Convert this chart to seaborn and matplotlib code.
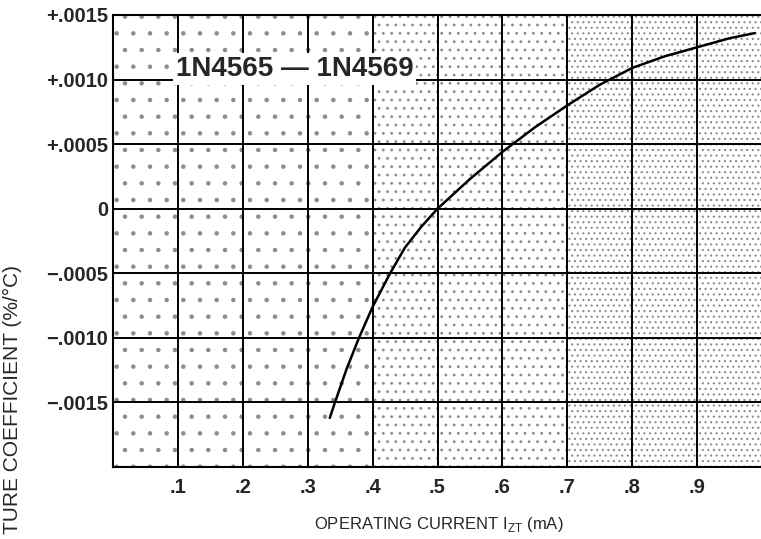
import matplotlib
matplotlib.use("Agg")
import matplotlib.pyplot as plt
import seaborn as sns
import pandas as pd
from matplotlib.patches import Rectangle

# ---- data ----
current_ma = [0.334, 0.342, 0.360, 0.379, 0.400, 0.427, 0.450, 0.475, 0.500,
              0.550, 0.600, 0.650, 0.700, 0.750, 0.800, 0.850, 0.900, 0.950,
              0.989]
temp_coeff = [-0.00162, -0.00150, -0.00124, -0.00100, -0.00076, -0.00050,
              -0.00030, -0.00014, 0.0, 0.00023, 0.00044, 0.00063, 0.00080,
              0.00096, 0.00109, 0.00118, 0.00125, 0.00132, 0.00136]
x_ticks = [0.1, 0.2, 0.3, 0.4, 0.5, 0.6, 0.7, 0.8, 0.9]
x_tick_labels = [".1", ".2", ".3", ".4", ".5", ".6", ".7", ".8", ".9"]
y_ticks = [-0.0015, -0.0010, -0.0005, 0.0, 0.0005, 0.0010, 0.0015]
y_tick_labels = ["\u2212.0015", "\u2212.0010", "\u2212.0005", "0",
                 "+.0005", "+.0010", "+.0015"]
title = "1N4565 \u2014 1N4569"
x_label = "OPERATING CURRENT I$_{\\mathregular{ZT}}$ (mA)"
y_label = "TURE COEFFICIENT (%/\u00b0C)"

# stipple texture bands (decoration of the scanned paper)
band_edges = [0.0, 0.4, 0.7, 1.0]
band_hatches = [".", "..", "..."]

sns.set_style("white")
plt.rcParams["font.family"] = ["Liberation Sans", "DejaVu Sans"]
plt.rcParams["hatch.linewidth"] = 0.8

W, H = 761, 539
fig = plt.figure(figsize=(W / 100, H / 100), dpi=100)
ax = fig.add_axes([113 / W, 72 / H, 648 / W, 452 / H])

for i, h in enumerate(band_hatches):
    ax.add_patch(Rectangle((band_edges[i], -0.002), band_edges[i + 1] - band_edges[i], 0.0035,
                           facecolor="none", edgecolor="0.55", hatch=h, lw=0, zorder=0.5))

df = pd.DataFrame({"current": current_ma, "coeff": temp_coeff})
sns.lineplot(data=df, x="current", y="coeff", ax=ax, color="black", lw=1.8,
             sort=False, zorder=4)

ax.set_xlim(0, 648 / 649)
ax.set_ylim(-0.002, 0.0015)
ax.set_xticks(x_ticks)
ax.set_xticklabels(x_tick_labels, fontsize=14.5, fontweight="bold")
ax.set_yticks(y_ticks)
ax.set_yticklabels(y_tick_labels, fontsize=14.5, fontweight="bold")
ax.tick_params(axis="x", length=0, pad=8)
ax.tick_params(axis="y", length=0, pad=3.5)
ax.set_xlabel("")
ax.set_ylabel("")
ax.grid(True, color="black", lw=1.4)
ax.set_axisbelow(True)
for side in ["left", "bottom", "top"]:
    ax.spines[side].set_color("black")
    ax.spines[side].set_linewidth(1.5)
ax.spines["right"].set_visible(False)

ax.text(0.28, 0.00108, title, ha="center", va="center", fontsize=20,
        fontweight="bold", zorder=6,
        bbox=dict(facecolor="white", edgecolor="none", pad=2))

fig.text(439 / W, 1 - 524 / H, x_label, ha="center", va="center", fontsize=12)
fig.text(12 / W, 1 - 265 / H, y_label, ha="center", va="top", rotation=90,
         fontsize=15)

fig.savefig("out.png", dpi=100)
